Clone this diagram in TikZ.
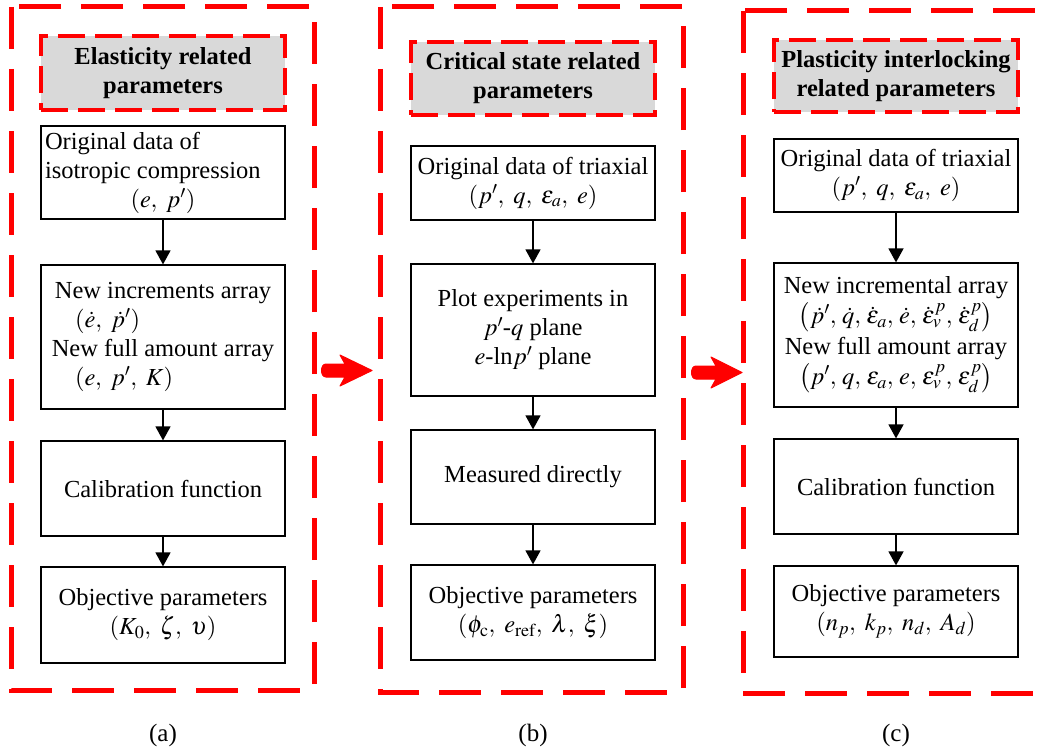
\documentclass[tikz,border=0pt]{standalone}
\usepackage{mathptmx}
\usepackage[no-math]{fontspec}
\setmainfont{Liberation Serif}
\usepackage{array}
\usetikzlibrary{arrows.meta}
\tikzset{
  x=1pt, y=-1pt,
  panel/.style={draw=red, line width=5pt, dash pattern=on 42pt off 20pt},
  titlebox/.style={draw=red, fill=gray!30, line width=3.5pt, dash pattern=on 27pt off 10pt,
    minimum width=244pt, inner sep=2pt, align=center,
    font=\fontsize{24.5}{29}\selectfont\bfseries},
  stepbox/.style={draw=black, line width=1.2pt, fill=white, minimum width=244pt,
    inner sep=3pt, align=center, font=\fontsize{24.5}{29}\selectfont},
  flow/.style={line width=1.4pt, -{Triangle[width=15pt,length=14pt]}},
  caplabel/.style={font=\fontsize{25}{30}\selectfont},
  redarrow/.style={fill=red, draw=red, line width=1pt, line join=round}
}
\begin{document}
\begin{tikzpicture}
\useasboundingbox (0,0) rectangle (1041,752);
\clip (0,0) rectangle (1041,752);
% panels
\draw[panel] (11,7) rectangle (314,690);
\draw[panel] (380,7) rectangle (683,692);
\draw[panel] (743,11) rectangle (1075,693);

% panel (a)
\node[titlebox, minimum height=74pt] (ta) at (163,73) {Elasticity related\\parameters};
\node[stepbox, minimum height=83pt] (a1) at (163,172.5)
  {\begin{tabular}{@{}p{236pt}@{}}Original data of\\isotropic compression\\\multicolumn{1}{@{}c@{}}{$\left(e,\ p'\right)$}\end{tabular}};
\node[stepbox, minimum height=144pt] (a2) at (163,337)
  {New increments array\\\makebox[220pt][l]{\hspace{22pt}$\left(\dot e,\ \dot p'\right)$}\\New full amount array\\\makebox[220pt][l]{\hspace{22pt}$\left(e,\ p',\ K\right)$}};
\node[stepbox, minimum height=95pt] (a3) at (163,488.5) {Calibration function};
\node[stepbox, minimum height=96pt] (a4) at (163,615)
  {Objective parameters\\$\left(K_0,\ \zeta,\ \upsilon\right)$};
\draw[flow] (a1.south) -- (a2.north);
\draw[flow] (a2.south) -- (a3.north);
\draw[flow] (a3.south) -- (a4.north);
\node[caplabel] (ca) at (163,735) {(a)};

% panel (b)
\node[titlebox, minimum height=73pt] (tb) at (533,78.5) {Critical state related\\parameters};
\node[stepbox, minimum height=74pt] (b1) at (533,183)
  {Original data of triaxial\\$\left(p',\ q,\ \varepsilon_a,\ e\right)$};
\node[stepbox, minimum height=132pt] (b2) at (533,330)
  {Plot experiments in\\$p'$-$q$ plane\\$e$-ln$p'$ plane};
\node[stepbox, minimum height=94pt] (b3) at (533,477) {Measured directly};
\node[stepbox, minimum height=95pt] (b4) at (533,612.5)
  {Objective parameters\\$\left(\phi_{\mathrm{c}},\ e_{\mathrm{ref}},\ \lambda,\ \xi\right)$};
\draw[flow] (b1.south) -- (b2.north);
\draw[flow] (b2.south) -- (b3.north);
\draw[flow] (b3.south) -- (b4.north);
\node[caplabel] (cb) at (533,735) {(b)};

% panel (c)
\node[titlebox, minimum height=72pt] (tc) at (896,76) {Plasticity interlocking\\related parameters};
\node[stepbox, minimum height=73pt] (c1) at (896,175.5)
  {Original data of triaxial\\$\left(p',\ q,\ \varepsilon_a,\ e\right)$};
\node[stepbox, minimum height=144pt] (c2) at (896,335)
  {New incremental array\\[1pt]$\left(\dot p',\,\dot q,\,\dot\varepsilon_a,\,\dot e,\,\dot\varepsilon_v^p,\,\dot\varepsilon_d^p\right)$\\[2pt]New full amount array\\[1pt]$\left(p',\,q,\,\varepsilon_a,\,e,\,\varepsilon_v^p,\,\varepsilon_d^p\right)$};
\node[stepbox, minimum height=95pt] (c3) at (896,486.5) {Calibration function};
\node[stepbox, minimum height=91pt] (c4) at (896,611.5)
  {Objective parameters\\$\left(n_p,\ k_p,\ n_d,\ A_d\right)$};
\draw[flow] (c1.south) -- (c2.north);
\draw[flow] (c2.south) -- (c3.north);
\draw[flow] (c3.south) -- (c4.north);
\node[caplabel] (cc) at (896,735) {(c)};

% red block arrows between panels
\draw[redarrow] (326,364) -- (345,364) -- (340,355) -- (372,370.5) -- (340,386) -- (345,377) -- (326,377)
  .. controls (320,377) and (320,364) .. (326,364) -- cycle;
\draw[redarrow] (696,366) -- (716,366) -- (711,357) -- (742,372.5) -- (711,388) -- (716,379) -- (696,379)
  .. controls (690,379) and (690,366) .. (696,366) -- cycle;
\end{tikzpicture}
\end{document}
